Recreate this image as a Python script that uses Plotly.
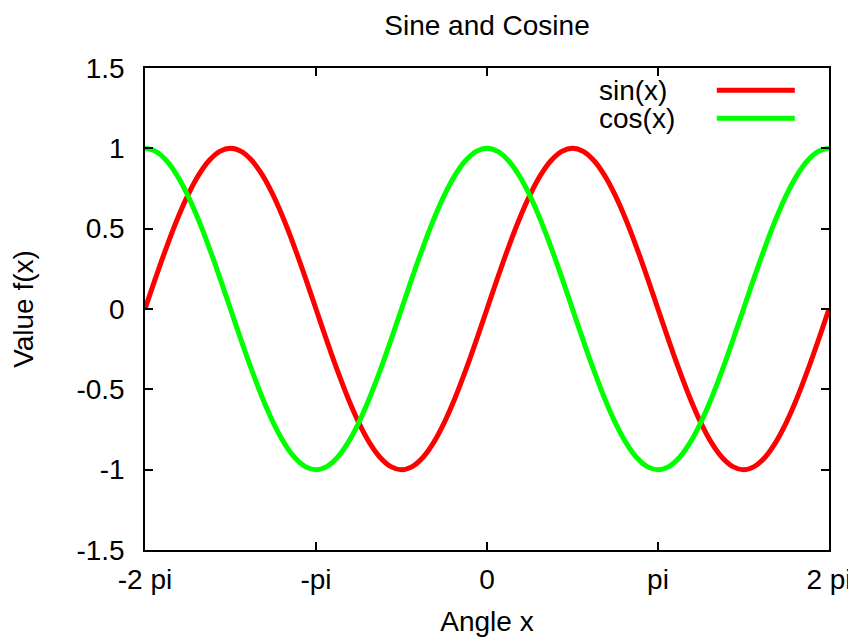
import plotly.graph_objects as go

# x positions in units of pi (-2 pi .. 2 pi, step pi/16)
x_pi = [-2.0, -1.9375, -1.875, -1.8125, -1.75, -1.6875, -1.625, -1.5625,
        -1.5, -1.4375, -1.375, -1.3125, -1.25, -1.1875, -1.125, -1.0625,
        -1.0, -0.9375, -0.875, -0.8125, -0.75, -0.6875, -0.625, -0.5625,
        -0.5, -0.4375, -0.375, -0.3125, -0.25, -0.1875, -0.125, -0.0625,
        0.0, 0.0625, 0.125, 0.1875, 0.25, 0.3125, 0.375, 0.4375,
        0.5, 0.5625, 0.625, 0.6875, 0.75, 0.8125, 0.875, 0.9375,
        1.0, 1.0625, 1.125, 1.1875, 1.25, 1.3125, 1.375, 1.4375,
        1.5, 1.5625, 1.625, 1.6875, 1.75, 1.8125, 1.875, 1.9375, 2.0]

sin_vals = [0, 0.1951, 0.3827, 0.5556, 0.7071, 0.8315, 0.9239, 0.9808,
            1, 0.9808, 0.9239, 0.8315, 0.7071, 0.5556, 0.3827, 0.1951,
            0, -0.1951, -0.3827, -0.5556, -0.7071, -0.8315, -0.9239, -0.9808,
            -1, -0.9808, -0.9239, -0.8315, -0.7071, -0.5556, -0.3827, -0.1951,
            0, 0.1951, 0.3827, 0.5556, 0.7071, 0.8315, 0.9239, 0.9808,
            1, 0.9808, 0.9239, 0.8315, 0.7071, 0.5556, 0.3827, 0.1951,
            0, -0.1951, -0.3827, -0.5556, -0.7071, -0.8315, -0.9239, -0.9808,
            -1, -0.9808, -0.9239, -0.8315, -0.7071, -0.5556, -0.3827, -0.1951, 0]

cos_vals = [1, 0.9808, 0.9239, 0.8315, 0.7071, 0.5556, 0.3827, 0.1951,
            0, -0.1951, -0.3827, -0.5556, -0.7071, -0.8315, -0.9239, -0.9808,
            -1, -0.9808, -0.9239, -0.8315, -0.7071, -0.5556, -0.3827, -0.1951,
            0, 0.1951, 0.3827, 0.5556, 0.7071, 0.8315, 0.9239, 0.9808,
            1, 0.9808, 0.9239, 0.8315, 0.7071, 0.5556, 0.3827, 0.1951,
            0, -0.1951, -0.3827, -0.5556, -0.7071, -0.8315, -0.9239, -0.9808,
            -1, -0.9808, -0.9239, -0.8315, -0.7071, -0.5556, -0.3827, -0.1951,
            0, 0.1951, 0.3827, 0.5556, 0.7071, 0.8315, 0.9239, 0.9808, 1]

series_names = ["sin(x)", "cos(x)"]
series_colors = ["#ff0000", "#00ff00"]

x_tickvals = [-2, -1, 0, 1, 2]
x_ticktext = ["-2 pi", "-pi", "0", "pi", "2 pi"]
y_tickvals = [-1.5, -1, -0.5, 0, 0.5, 1, 1.5]
y_ticktext = ["-1.5", "-1", "-0.5", "0", "0.5", "1", "1.5"]

FONT = "Liberation Sans, Arial, Helvetica, sans-serif"
FS = 28

fig = go.Figure()
for name, vals, col in zip(series_names, [sin_vals, cos_vals], series_colors):
    fig.add_trace(go.Scatter(x=x_pi, y=vals, mode="lines", name=name,
                             line=dict(color=col, width=5, shape="spline"),
                             showlegend=False))

# gnuplot-style key: text on the left, line sample on the right
key_rows_y = [0.954, 0.896]
for name, col, ky in zip(series_names, series_colors, key_rows_y):
    fig.add_annotation(xref="paper", yref="paper", x=0.661, y=ky,
                       text=name, showarrow=False, xanchor="left", yanchor="middle",
                       font=dict(family=FONT, size=FS, color="black"))
    fig.add_shape(type="line", xref="paper", yref="paper",
                  x0=0.836, x1=0.950, y0=ky, y1=ky,
                  line=dict(color=col, width=5))

axis_common = dict(showgrid=False, zeroline=False, showline=True, linecolor="black",
                   linewidth=1.5, mirror="allticks", ticks="inside", ticklen=8,
                   tickwidth=1.5, tickcolor="black", automargin=False,
                   tickfont=dict(family=FONT, size=FS, color="black"))

# the page body has an 8px margin, so the figure is sized/offset to compensate
W, H = 848, 632
fig.update_layout(
    width=W, height=H,
    paper_bgcolor="white", plot_bgcolor="white",
    margin=dict(l=137, r=27, t=60, b=90, autoexpand=False),
    title=dict(text="Sine and Cosine", x=0.5, xref="paper", xanchor="center",
               y=1 - 17 / H, yref="container", yanchor="middle",
               font=dict(family=FONT, size=FS, color="black")),
    xaxis=dict(range=[-2, 2], tickmode="array", tickvals=x_tickvals, ticktext=x_ticktext,
               title=dict(text="Angle x", font=dict(family=FONT, size=FS, color="black"),
                          standoff=17),
               ticklabelstandoff=4,
               **axis_common),
    yaxis=dict(range=[-1.5, 1.5], tickmode="array", tickvals=y_tickvals, ticktext=y_ticktext,
               title=dict(text="Value f(x)", font=dict(family=FONT, size=FS, color="black"),
                          standoff=36),
               ticklabelstandoff=13,
               **axis_common),
)

fig.write_html("out.html")
